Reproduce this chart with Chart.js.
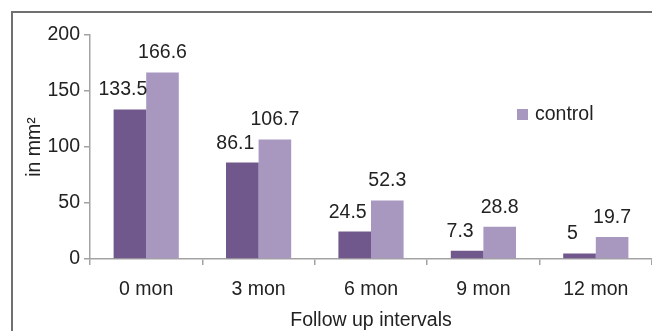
<!DOCTYPE html>
<html>
<head>
<meta charset="utf-8">
<script src="https://cdn.jsdelivr.net/npm/chart.js@4.4.1/dist/chart.umd.min.js"></script>
<style>
  html, body { margin: 0; padding: 0; background: #ffffff; }
  #wrap { position: relative; width: 652px; height: 331px; }
</style>
</head>
<body>
<div id="wrap"><canvas id="chart" width="652" height="331"></canvas></div>
<script>
// Follow-up intervals and measured areas (mm²)
const categories = ['0 mon', '3 mon', '6 mon', '9 mon', '12 mon'];
const studyValues = [133.5, 86.1, 24.5, 7.3, 5];
const controlValues = [166.6, 106.7, 52.3, 28.8, 19.7];
const yTicks = [0, 50, 100, 150, 200];

const FONT = 'Liberation Sans, Arial, sans-serif';
const TEXT = '#222222';
const AXIS = '#a3a3a3';
const DARK = '#70588c';
const LIGHT = '#a898c0';

// outer frame (top and left edges)
const framePlugin = {
  id: 'frame',
  beforeDraw(chart) {
    const ctx = chart.ctx;
    ctx.save();
    ctx.strokeStyle = '#707070';
    ctx.lineWidth = 2;
    ctx.beginPath();
    ctx.moveTo(12, chart.height);
    ctx.lineTo(12, 12);
    ctx.lineTo(chart.width, 12);
    ctx.stroke();
    ctx.restore();
  }
};

// value labels above each bar
const valueLabels = {
  id: 'valueLabels',
  afterDatasetsDraw(chart) {
    const ctx = chart.ctx;
    ctx.save();
    ctx.font = '19.5px ' + FONT;
    ctx.fillStyle = TEXT;
    ctx.textAlign = 'center';
    ctx.textBaseline = 'alphabetic';
    chart.data.datasets.forEach((ds, i) => {
      const meta = chart.getDatasetMeta(i);
      const shift = i === 0 ? -7 : 0;
      meta.data.forEach((bar, j) => {
        ctx.fillText(String(ds.data[j]), bar.x + shift, bar.y - 14);
      });
    });
    ctx.restore();
  }
};

// legend entry for the control series, inside the plot
const legendBox = {
  id: 'legendBox',
  afterDraw(chart) {
    const ctx = chart.ctx;
    const ds = chart.data.datasets[1];
    const x = chart.chartArea.right - 135;
    const y = 115;
    ctx.save();
    ctx.fillStyle = ds.backgroundColor;
    ctx.fillRect(x, y - 6, 11, 11);
    ctx.font = '19.5px ' + FONT;
    ctx.fillStyle = TEXT;
    ctx.textAlign = 'left';
    ctx.textBaseline = 'middle';
    ctx.fillText(ds.label, x + 18, y);
    ctx.restore();
  }
};

new Chart(document.getElementById('chart'), {
  type: 'bar',
  data: {
    labels: categories,
    datasets: [
      { label: 'study', data: studyValues, backgroundColor: DARK },
      { label: 'control', data: controlValues, backgroundColor: LIGHT }
    ]
  },
  options: {
    responsive: false,
    animation: false,
    devicePixelRatio: 1,
    layout: { padding: { top: 35, left: 0, right: 0, bottom: 0 } },
    datasets: { bar: { categoryPercentage: 0.58, barPercentage: 1.0 } },
    plugins: {
      legend: { display: false },
      tooltip: { enabled: false }
    },
    scales: {
      x: {
        grid: { display: true, drawOnChartArea: false, drawTicks: true, tickLength: 6, color: AXIS, lineWidth: 1.5, offset: true },
        border: { display: true, color: AXIS, width: 1.5 },
        ticks: { color: TEXT, font: { family: FONT, size: 19.5 }, padding: 13, maxRotation: 0 },
        title: { display: true, text: 'Follow up intervals', color: TEXT, font: { family: FONT, size: 19.5 }, padding: { top: 0, bottom: -1 } },
        afterFit(scale) { scale.height = 72; }
      },
      y: {
        min: yTicks[0],
        max: yTicks[yTicks.length - 1],
        grid: { display: true, drawOnChartArea: false, drawTicks: true, tickLength: 6, color: AXIS, lineWidth: 1.5 },
        border: { display: true, color: AXIS, width: 1.5 },
        ticks: { stepSize: yTicks[1] - yTicks[0], color: TEXT, font: { family: FONT, size: 19.5 }, padding: 4 },
        title: { display: true, text: 'in mm²', color: TEXT, font: { family: FONT, size: 19.5 }, padding: { top: 23, bottom: 0 } },
        afterFit(scale) { scale.width = 90; }
      }
    }
  },
  plugins: [framePlugin, valueLabels, legendBox]
});
</script>
</body>
</html>
